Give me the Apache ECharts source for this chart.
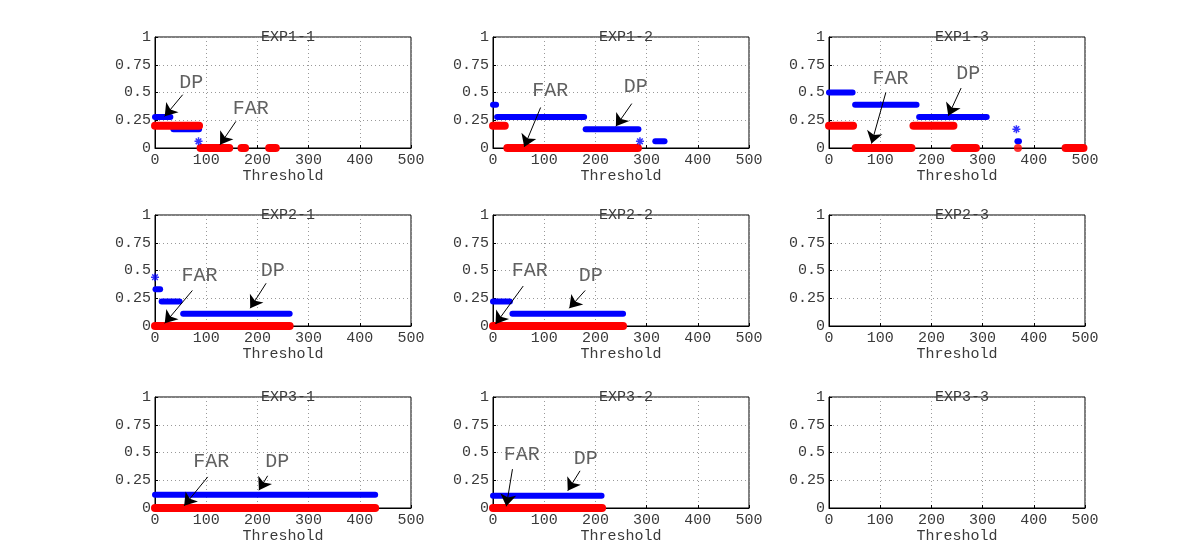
<!DOCTYPE html>
<html>
<head>
<meta charset="utf-8">
<script src="https://cdn.jsdelivr.net/npm/echarts@6/dist/echarts.min.js"></script>
<style>
  html, body { margin: 0; background: #fff; }
  #chart { width: 1200px; height: 551px; }
</style>
</head>
<body>
<div id="chart"></div>
<script>
// segments: [thresholdStart, thresholdEnd, value]; start == end is a single point
const exp11Dp = [[0, 30, 0.28], [36, 86, 0.17], [85, 85, 0.06]];
const exp11Far = [[0, 86, 0.2], [89, 145, 0], [169, 176, 0], [223, 236, 0]];
const exp12Dp = [[0, 6, 0.39], [8, 178, 0.28], [181, 284, 0.17], [287, 287, 0.06], [317, 335, 0.06]];
const exp12Far = [[0, 23, 0.2], [28, 283, 0]];
const exp13Dp = [[0, 46, 0.5], [51, 171, 0.39], [176, 308, 0.28], [366, 366, 0.17], [368, 371, 0.06]];
const exp13Far = [[0, 47, 0.2], [52, 161, 0], [165, 243, 0.2], [245, 287, 0], [369, 369, 0], [462, 497, 0]];
const exp21Dp = [[0, 0, 0.44], [1, 10, 0.33], [13, 48, 0.22], [55, 263, 0.11]];
const exp21Far = [[0, 263, 0]];
const exp22Dp = [[0, 33, 0.22], [38, 254, 0.11]];
const exp22Far = [[0, 254, 0]];
const exp23Dp = [];
const exp23Far = [];
const exp31Dp = [[0, 430, 0.12]];
const exp31Far = [[0, 430, 0]];
const exp32Dp = [[0, 212, 0.11]];
const exp32Far = [[0, 213, 0]];
const exp33Dp = [];
const exp33Far = [];

// notes: [text, textX, textY, arrowFromX, arrowFromY, arrowToX, arrowToY]
const exp11Notes = [['DP', 71, 0.59, 54, 0.48, 19, 0.285], ['FAR', 187, 0.35, 158, 0.24, 127, 0.03]];
const exp12Notes = [['FAR', 112, 0.52, 93, 0.365, 61, 0.01], ['DP', 279, 0.55, 271, 0.4, 240, 0.195]];
const exp13Notes = [['FAR', 120, 0.62, 111, 0.5, 83, 0.04], ['DP', 272, 0.67, 258, 0.54, 233, 0.29]];
const exp21Notes = [['FAR', 87, 0.45, 73, 0.32, 19, 0.024], ['DP', 230, 0.5, 217, 0.385, 186, 0.16]];
const exp22Notes = [['FAR', 72, 0.5, 59, 0.36, 5, 0.018], ['DP', 191, 0.45, 180, 0.32, 149, 0.16]];
const exp23Notes = [];
const exp31Notes = [['FAR', 110, 0.42, 103, 0.28, 57, 0.02], ['DP', 239, 0.42, 220, 0.29, 203, 0.16]];
const exp32Notes = [['FAR', 56, 0.48, 38, 0.35, 26, 0.015], ['DP', 181, 0.44, 170, 0.335, 146, 0.156]];
const exp33Notes = [];

const panelTitles = ['EXP1-1', 'EXP1-2', 'EXP1-3', 'EXP2-1', 'EXP2-2', 'EXP2-3', 'EXP3-1', 'EXP3-2', 'EXP3-3'];
const dpSets = [exp11Dp, exp12Dp, exp13Dp, exp21Dp, exp22Dp, exp23Dp, exp31Dp, exp32Dp, exp33Dp];
const farSets = [exp11Far, exp12Far, exp13Far, exp21Far, exp22Far, exp23Far, exp31Far, exp32Far, exp33Far];
const noteSets = [exp11Notes, exp12Notes, exp13Notes, exp21Notes, exp22Notes, exp23Notes, exp31Notes, exp32Notes, exp33Notes];
const xTicks = [0, 100, 200, 300, 400, 500];
const yTicks = [0, 0.25, 0.5, 0.75, 1];

const FONT = 'Liberation Mono, DejaVu Sans Mono, monospace';
const TXT = '#3a3a3a';
const colLefts = [155, 493, 829];
const rowTops = [37, 215, 397];
const W = 256, H = 111;
const STAR = 'path://M5,0L5,10M0,5L10,5M1.5,1.5L8.5,8.5M8.5,1.5L1.5,8.5';

const grids = [], xAxes = [], yAxes = [], titles = [], series = [];

panelTitles.forEach((name, i) => {
  const left = colLefts[i % 3], top = rowTops[Math.floor(i / 3)];
  grids.push({ left, top, width: W, height: H, show: true, borderColor: '#000', borderWidth: 1, backgroundColor: '#fff' });
  titles.push({
    text: name, left: left + W / 2, top: top - 12, textAlign: 'center',
    textStyle: { fontFamily: FONT, fontSize: 15, fontWeight: 'normal', color: TXT }
  });
  xAxes.push({
    type: 'value', gridIndex: i, min: xTicks[0], max: xTicks[xTicks.length - 1], interval: 100,
    name: 'Threshold', nameLocation: 'middle', nameGap: 21,
    nameTextStyle: { fontFamily: FONT, fontSize: 15, color: TXT },
    axisLine: { lineStyle: { color: '#000', width: 1 } },
    axisTick: { inside: true, length: 3, lineStyle: { color: '#000' } },
    axisLabel: { fontFamily: FONT, fontSize: 15, color: TXT, margin: 5 },
    splitLine: { show: true, lineStyle: { color: '#999', type: [1, 3] } }
  });
  yAxes.push({
    type: 'value', gridIndex: i, min: yTicks[0], max: yTicks[yTicks.length - 1], interval: 0.25,
    axisLine: { show: true, lineStyle: { color: '#000', width: 1 } },
    axisTick: { show: true, inside: true, length: 3, lineStyle: { color: '#000' } },
    axisLabel: { fontFamily: FONT, fontSize: 15, color: TXT, margin: 4 },
    splitLine: { show: true, lineStyle: { color: '#999', type: [1, 3] } }
  });

  const stars = [], dots = [];
  dpSets[i].forEach(([a, b, v]) => {
    if (a === b) { stars.push([a, v]); return; }
    series.push({
      type: 'line', xAxisIndex: i, yAxisIndex: i, data: [[a, v], [b, v]], symbol: 'none',
      lineStyle: { color: '#0000ff', width: 6, cap: 'round' }, z: 2, silent: true
    });
  });
  farSets[i].forEach(([a, b, v]) => {
    if (a === b) { dots.push([a, v]); return; }
    series.push({
      type: 'line', xAxisIndex: i, yAxisIndex: i, data: [[a, v], [b, v]], symbol: 'none',
      lineStyle: { color: '#ff0000', width: 8, cap: 'round' }, z: 3, silent: true
    });
  });
  if (stars.length) series.push({
    type: 'scatter', xAxisIndex: i, yAxisIndex: i, data: stars, symbol: STAR, symbolSize: 8,
    itemStyle: { color: '#0000ff', borderColor: '#0000ff', borderWidth: 1.5 }, z: 4, silent: true
  });
  if (dots.length) series.push({
    type: 'scatter', xAxisIndex: i, yAxisIndex: i, data: dots, symbol: 'circle', symbolSize: 8,
    itemStyle: { color: '#ff0000' }, z: 3, silent: true
  });
  if (noteSets[i].length) series.push({
    type: 'scatter', xAxisIndex: i, yAxisIndex: i, symbolSize: 0, z: 5, silent: true,
    data: noteSets[i].map(n => [n[1], n[2], n[0]]),
    label: {
      show: true, position: 'inside', formatter: p => p.value[2],
      fontFamily: FONT, fontSize: 20, color: TXT
    },
    markLine: {
      silent: true, animation: false, symbol: ['none', 'arrow'], symbolSize: 12,
      lineStyle: { color: '#000', width: 1, type: 'solid' },
      label: { show: false },
      data: noteSets[i].map(n => [{ coord: [n[3], n[4]] }, { coord: [n[5], n[6]] }])
    }
  });
});

const chart = echarts.init(document.getElementById('chart'));
chart.setOption({
  animation: false,
  backgroundColor: '#fff',
  title: titles,
  grid: grids,
  xAxis: xAxes,
  yAxis: yAxes,
  series
});
</script>
</body>
</html>
